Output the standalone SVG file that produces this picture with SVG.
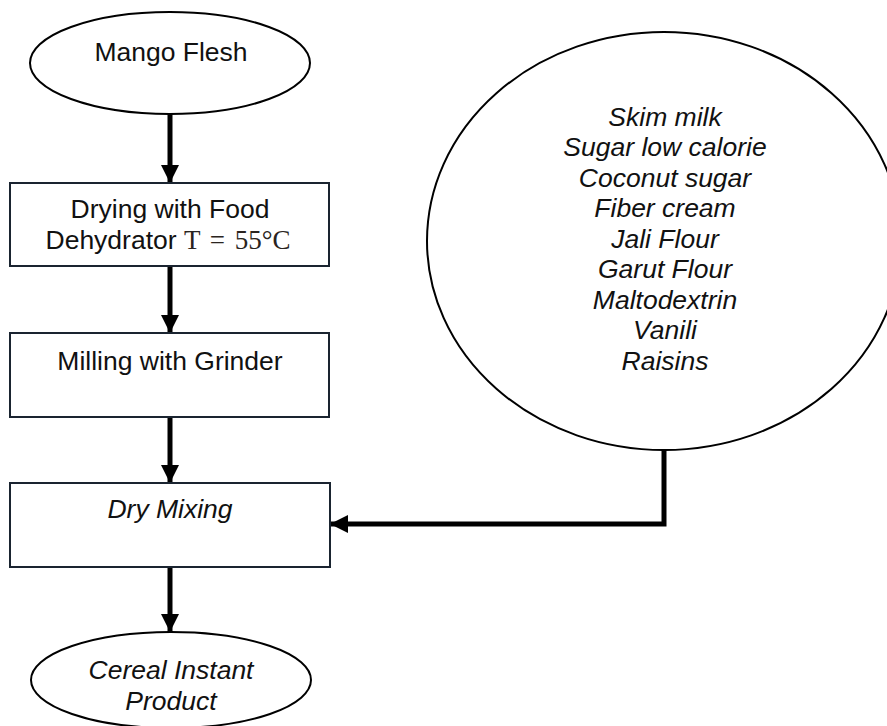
<svg xmlns="http://www.w3.org/2000/svg" width="887" height="726" viewBox="0 0 887 726">
<style>
.oval{fill:#fff;stroke:#000;stroke-width:2}
.box{fill:#fff;stroke:#1a2430;stroke-width:2}
.t{font-family:"Liberation Sans",Arial,sans-serif;font-size:26.5px;fill:#111;text-anchor:middle}
.i{font-style:italic}
.m{font-family:"Liberation Serif","DejaVu Serif",serif;font-size:27px}
.c{fill:none;stroke:#000;stroke-width:5}
</style>
<defs>
<marker id="ah" markerUnits="userSpaceOnUse" markerWidth="18" markerHeight="18" refX="18" refY="9" orient="auto">
<path d="M0,0 L18,9 L0,18 Z" fill="#000"/>
</marker>
</defs>
<rect width="887" height="726" fill="#fff"/>
<g id="connectors">
<line class="c" x1="170" y1="114" x2="170" y2="183" marker-end="url(#ah)"/>
<line class="c" x1="170" y1="266" x2="170" y2="333" marker-end="url(#ah)"/>
<line class="c" x1="170" y1="417" x2="170" y2="483" marker-end="url(#ah)"/>
<line class="c" x1="170" y1="567" x2="170" y2="632" marker-end="url(#ah)"/>
<polyline class="c" points="664,450 664,524 330,524" marker-end="url(#ah)"/>
</g>
<g id="mango">
<ellipse class="oval" cx="170" cy="63" rx="140" ry="51"/>
<text class="t" x="171" y="61">Mango Flesh</text>
</g>
<g id="drying">
<rect class="box" x="10" y="183" width="319" height="83"/>
<text class="t" x="170" y="218">Drying with Food</text>
<text class="t" x="168" y="249">Dehydrator <tspan class="m" fill="#2a2420" word-spacing="3">T = 55°C</tspan></text>
</g>
<g id="milling">
<rect class="box" x="10" y="333" width="319" height="84"/>
<text class="t" x="170" y="370">Milling with Grinder</text>
</g>
<g id="drymixing">
<rect class="box" x="10" y="483" width="320" height="84"/>
<text class="t i" x="170" y="518">Dry Mixing</text>
</g>
<g id="cereal">
<ellipse class="oval" cx="171" cy="680" rx="140" ry="48"/>
<text class="t i" x="171" y="679">Cereal Instant</text>
<text class="t i" x="171" y="710">Product</text>
</g>
<g id="ingredients">
<ellipse class="oval" cx="664" cy="241" rx="237" ry="209"/>
<text class="t i" x="665" y="126">Skim milk</text>
<text class="t i" x="665" y="156">Sugar low calorie</text>
<text class="t i" x="665" y="187">Coconut sugar</text>
<text class="t i" x="665" y="217">Fiber cream</text>
<text class="t i" x="665" y="248">Jali Flour</text>
<text class="t i" x="665" y="278">Garut Flour</text>
<text class="t i" x="665" y="309">Maltodextrin</text>
<text class="t i" x="665" y="339">Vanili</text>
<text class="t i" x="665" y="370">Raisins</text>
</g>
</svg>
